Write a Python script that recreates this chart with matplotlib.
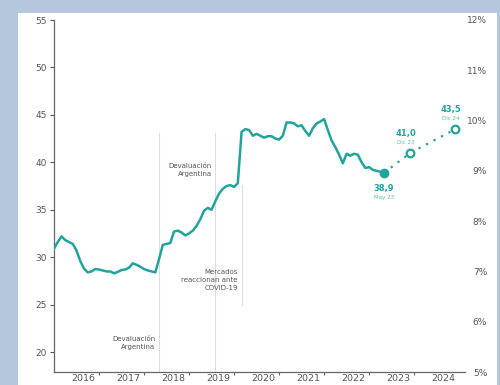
import numpy as np
import matplotlib.pyplot as plt
from matplotlib.patches import Rectangle

# Monthly series, Jan 2016 .. May 2023
start_year = 2016
values = [
    30.9, 31.6, 32.2, 31.8, 31.6, 31.4, 30.7, 29.6, 28.8, 28.4, 28.5, 28.75,
    28.7, 28.6, 28.5, 28.5, 28.3, 28.45, 28.65, 28.7, 28.9, 29.35, 29.2, 29.0,
    28.75, 28.6, 28.5, 28.4, 29.8, 31.3, 31.4, 31.5, 32.7, 32.8, 32.6, 32.3,
    32.5, 32.8, 33.3, 34.0, 34.9, 35.2, 35.0, 35.9, 36.7, 37.2, 37.5, 37.6,
    37.4, 37.8, 43.2, 43.5, 43.4, 42.8, 43.0, 42.8, 42.6, 42.75, 42.75, 42.5,
    42.4, 42.8, 44.2, 44.2, 44.1, 43.8, 43.9, 43.3, 42.8, 43.6, 44.1, 44.3,
    44.55, 43.4, 42.3, 41.6, 40.8, 39.9, 40.9, 40.7, 40.9, 40.8, 40.0, 39.4,
    39.5, 39.2, 39.1, 39.0, 38.9,
]

# projection points (decimal years)
proj_x = [2023 + 4 / 12, 2023 + 11 / 12, 2024 + 11 / 12]
proj_y = [38.9, 41.0, 43.5]
proj_val = ["38,9", "41,0", "43,5"]
proj_date = ["May 23", "Dic 23", "Dic 24"]

# event markers
event_x = [2018 + 4 / 12, 2019 + 7 / 12, 2020 + 2 / 12]
event_text = ["Devaluación\nArgentina", "Devaluación\nArgentina",
              "Mercados\nreaccionan ante\nCOVID-19"]
event_text_y = [20.95, 39.2, 27.6]
event_span = [(17.9, 43.1), (17.9, 43.1), (25.0, 37.6)]

years = list(range(2016, 2025))
left_ticks = [20, 25, 30, 35, 40, 45, 50, 55]
right_ticks = [5, 6, 7, 8, 9, 10, 11, 12]

teal = "#22a39b"
light_teal = "#5cbcb6"
grey = "#555555"

fig = plt.figure(figsize=(5, 3.85), dpi=100)
fig.patch.set_facecolor("#b4c7dd")
fig.add_artist(Rectangle((18 / 500, 0), 479 / 500, 372 / 385,
                         transform=fig.transFigure, facecolor="white",
                         edgecolor="none", zorder=0))

ax = fig.add_axes([54 / 500, 13 / 385, 411 / 500, 352 / 385])
ax.set_facecolor("none")

x = start_year + np.arange(len(values)) / 12
ax.plot(x, values, color=teal, lw=1.8, zorder=3, solid_joinstyle="round")

ax.plot(proj_x, proj_y, color=teal, lw=1.6, ls=(0, (1, 2.8)), zorder=3)
ax.plot(proj_x[0], proj_y[0], "o", color=teal, ms=6, zorder=4)
ax.plot(proj_x[1:], proj_y[1:], "o", mfc="white", mec=teal, mew=1.6, ms=5.5, zorder=4)

# labels on projection points
ax.annotate(proj_val[0], (proj_x[0], proj_y[0]), xytext=(0, -11), textcoords="offset points",
            ha="center", va="center", fontsize=6, fontweight="bold", color=teal)
ax.annotate(proj_date[0], (proj_x[0], proj_y[0]), xytext=(0, -18), textcoords="offset points",
            ha="center", va="center", fontsize=4, color=light_teal)
for px, py, v, d in zip(proj_x[1:], proj_y[1:], proj_val[1:], proj_date[1:]):
    ax.annotate(v, (px, py), xytext=(-3, 14), textcoords="offset points",
                ha="center", va="center", fontsize=6, fontweight="bold", color=teal)
    ax.annotate(d, (px, py), xytext=(-3, 7.5), textcoords="offset points",
                ha="center", va="center", fontsize=4, color=light_teal)

for ex, txt, ty, (y0, y1) in zip(event_x, event_text, event_text_y, event_span):
    ax.plot([ex, ex], [y0, y1], color="#dddddd", lw=0.8, zorder=1)
    ax.text(ex - 0.08, ty, txt, ha="right", va="center", fontsize=5,
            color=grey, linespacing=1.45)

ax.set_xlim(2016, 2025.13)
ax.set_ylim(17.9, 55)

for s in ["top", "right"]:
    ax.spines[s].set_visible(False)
for s in ["left", "bottom"]:
    ax.spines[s].set_color("#666666")
    ax.spines[s].set_linewidth(0.9)

ax.set_yticks(left_ticks)
ax.tick_params(axis="y", labelsize=6.5, colors=grey, length=3, width=0.8, pad=2)

ax.set_xticks(years[1:])
ax.set_xticklabels([])
ax.set_xticks([y + 0.65 for y in years], minor=True)
ax.set_xticklabels([str(y) for y in years], minor=True)
ax.tick_params(axis="x", which="major", length=2.5, width=0.8, colors="#666666")
ax.tick_params(axis="x", which="minor", length=0, labelsize=6.8, labelcolor=grey, pad=1.5)

ax2 = ax.twinx()
ax2.set_ylim(5, 12)
ax2.set_yticks(right_ticks)
ax2.set_yticklabels([f"{t}%" for t in right_ticks])
for s in ax2.spines.values():
    s.set_visible(False)
ax2.tick_params(axis="y", length=0, labelsize=6.5, colors=grey, pad=16)
for lab in ax2.get_yticklabels():
    lab.set_ha("right")

fig.savefig("out.png", dpi=100)
